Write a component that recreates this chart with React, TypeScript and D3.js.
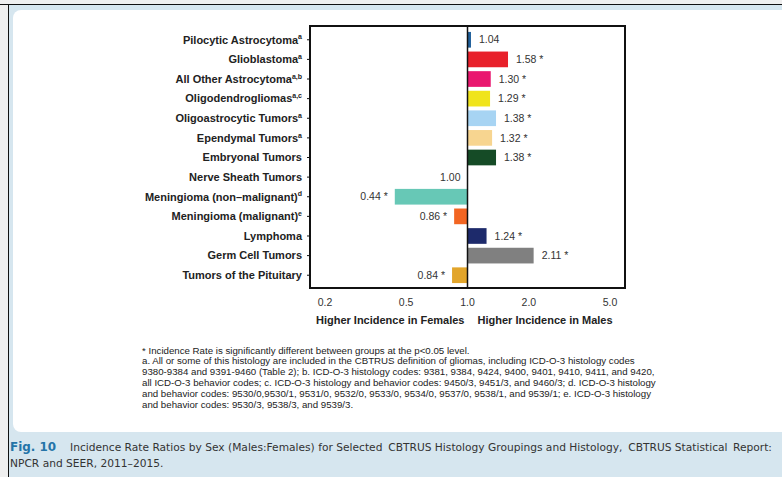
import React from "react";
import * as d3 from "d3";

const categories = [
  "Pilocytic Astrocytoma",
  "Glioblastoma",
  "All Other Astrocytoma",
  "Oligodendrogliomas",
  "Oligoastrocytic Tumors",
  "Ependymal Tumors",
  "Embryonal Tumors",
  "Nerve Sheath Tumors",
  "Meningioma (non\u2013malignant)",
  "Meningioma (malignant)",
  "Lymphoma",
  "Germ Cell Tumors",
  "Tumors of the Pituitary",
];
const superscripts = ["a", "a", "a,b", "a,c", "a", "a", "", "", "d", "e", "", "", ""];
const ratios = [1.04, 1.58, 1.3, 1.29, 1.38, 1.32, 1.38, 1.0, 0.44, 0.86, 1.24, 2.11, 0.84];
const significant = [false, true, true, true, true, true, true, false, true, true, true, true, true];
const colors = [
  "#1f5f9a", "#e8202a", "#e9176f", "#f0e41c", "#a7d4f3", "#f7d590", "#154b26",
  "#ffffff", "#67c8b6", "#f26522", "#1d2a6b", "#808080", "#e2a52b",
];
const xTicks = [0.2, 0.5, 1.0, 2.0, 5.0];
const footnotes = [
  "* Incidence Rate is significantly different between groups at the p<0.05 level.",
  "a. All or some of this histology are included in the CBTRUS definition of gliomas, including ICD-O-3 histology codes",
  "9380-9384 and 9391-9460 (Table 2); b. ICD-O-3 histology codes: 9381, 9384, 9424, 9400, 9401, 9410, 9411, and 9420,",
  "all ICD-O-3 behavior codes; c. ICD-O-3 histology and behavior codes: 9450/3, 9451/3, and 9460/3; d. ICD-O-3 histology",
  "and behavior codes: 9530/0,9530/1, 9531/0, 9532/0, 9533/0, 9534/0, 9537/0, 9538/1, and 9539/1; e. ICD-O-3 histology",
  "and behavior codes: 9530/3, 9538/3, and 9539/3.",
];
const captionChunks = [
  "Incidence Rate Ratios by Sex (Males:Females) for Selected",
  "CBTRUS Histology Groupings and Histology,",
  "CBTRUS Statistical",
  "Report:",
];
const captionLine2 = "NPCR and SEER, 2011\u20132015.";

const W = 782;
const H = 477;
const plot = { left: 310, right: 625, top: 26, bottom: 288 };
const sans = "Arial, 'Liberation Sans', Helvetica, sans-serif";
const narrow = "'DejaVu Sans', sans-serif";

function measureText(s: string, font: string): number {
  const ctx = document.createElement("canvas").getContext("2d");
  if (!ctx) return s.length * 0.55 * 10;
  ctx.font = font;
  return ctx.measureText(s).width;
}

export default function App() {
  const x = d3.scaleLog().domain([1 / 5.92, 5.92]).range([plot.left, plot.right]);
  const y = d3.scaleBand<string>().domain(categories).range([28, 287]).padding(0.2);
  const x1 = x(1);

  // fit caption line 1 into 70..772 at natural width
  const base = "10px 'DejaVu Sans'";
  const w10 = captionChunks.map((c) => measureText(c, base));
  const sp10 = measureText(" ", base);
  const full10 = w10.reduce((a, b) => a + b, 0) + sp10 * (captionChunks.length - 1);
  const capFontSize = Math.min(12.5, (10 * 696) / full10);
  const s = capFontSize / 10;
  let cursor = 70;
  const chunkX = w10.map((w) => {
    const p = cursor;
    cursor += (w + sp10) * s + 2;
    return p;
  });

  return (
    <svg width={W} height={H} style={{ position: "absolute", left: 0, top: 0 }} fontFamily={sans}>
      <rect x={0} y={0} width={W} height={H} fill="#efefef" />
      <rect x={8} y={4} width={W - 8} height={H - 4} fill="#d6e6ef" />
      <line x1={0} x2={W} y1={4.5} y2={4.5} stroke="#111" strokeWidth={1} />
      <line x1={8.5} x2={8.5} y1={4} y2={H} stroke="#111" strokeWidth={1} />
      <rect x={13} y={10} width={W} height={422} rx={8} fill="#ffffff" />

      {/* plot frame */}
      <rect
        x={plot.left}
        y={plot.top}
        width={plot.right - plot.left}
        height={plot.bottom - plot.top}
        fill="none"
        stroke="#111"
        strokeWidth={2}
      />

      {/* bars */}
      {categories.map((c, i) => {
        const v = ratios[i];
        const xv = x(v);
        const y0 = y(c)!;
        const bw = y.bandwidth();
        const left = Math.min(xv, x1);
        const width = Math.abs(xv - x1);
        return (
          <g key={c}>
            {width > 0.5 && <rect x={left} y={y0} width={width} height={bw} fill={colors[i]} />}
            <text
              x={v > 1 ? xv + 8 : xv - 7}
              y={y0 + bw / 2}
              dy="0.35em"
              textAnchor={v > 1 ? "start" : "end"}
              fontSize={10.5}
              fill="#333"
            >
              {v.toFixed(2) + (significant[i] ? " *" : "")}
            </text>
          </g>
        );
      })}

      <line x1={x1} x2={x1} y1={plot.top} y2={plot.bottom} stroke="#111" strokeWidth={1.5} />

      {/* y axis ticks & labels */}
      {categories.map((c, i) => {
        const cy = y(c)! + y.bandwidth() / 2;
        return (
          <g key={"l" + c}>
            <line x1={plot.left - 3} x2={plot.left} y1={cy} y2={cy} stroke="#111" strokeWidth={1} />
            <text x={302} y={cy} dy="0.35em" textAnchor="end" fontSize={11} fontWeight="bold" fill="#222">
              {c}
              {superscripts[i] && (
                <tspan fontSize={7} dy="-0.6em">
                  {superscripts[i]}
                </tspan>
              )}
            </text>
          </g>
        );
      })}

      {/* x axis */}
      {xTicks.map((t) => (
        <text key={t} x={x(t)} y={306} textAnchor="middle" fontSize={10.5} fill="#333">
          {t.toFixed(1)}
        </text>
      ))}
      <text x={x1 - 3} y={324} textAnchor="end" fontSize={11} fontWeight="bold" fill="#222">
        Higher Incidence in Females
      </text>
      <text x={x1 + 10} y={324} textAnchor="start" fontSize={11} fontWeight="bold" fill="#222">
        Higher Incidence in Males
      </text>

      {/* footnotes */}
      {footnotes.map((f, i) => (
        <text key={i} x={142} y={353.5 + i * 10.8} fontSize={9.7} fill="#222">
          {f}
        </text>
      ))}

      {/* caption */}
      <text x={10} y={451} fontSize={12} fontFamily={narrow} fill="#2474a8" fontWeight="bold" textLength={46} lengthAdjust="spacingAndGlyphs">
        Fig. 10
      </text>
      {captionChunks.map((c, i) => (
        <text key={c} x={chunkX[i]} y={451} fontSize={capFontSize} fontFamily={narrow} fill="#333">
          {c}
        </text>
      ))}
      <text x={10} y={467} fontSize={capFontSize} fontFamily={narrow} fill="#333">
        {captionLine2}
      </text>
    </svg>
  );
}
